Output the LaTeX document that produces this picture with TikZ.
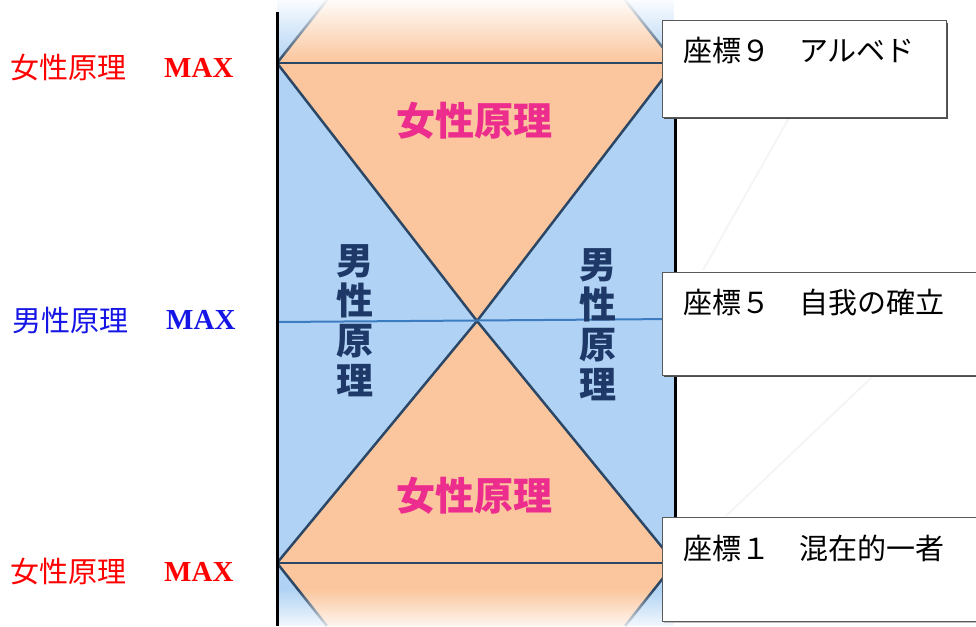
\documentclass[tikz,border=0pt]{standalone}
\usepackage{fontspec}
\newfontfamily\cjk{Noto Sans CJK JP}
\newfontfamily\tms{Liberation Serif}
\usetikzlibrary{fadings}
\definecolor{blu}{HTML}{B0D3F5}
\definecolor{ora}{HTML}{FBC69D}
\definecolor{lin}{HTML}{2B4765}
\definecolor{mag}{HTML}{EC2D8E}
\definecolor{nav}{HTML}{1E3868}
\definecolor{midl}{HTML}{3D7CC0}
\definecolor{lblue}{HTML}{1515E6}
\begin{document}
\begin{tikzpicture}[x=1pt,y=-1pt,
  xline/.style={lin, line width=2.5pt},
  bigf/.style={text=mag, font=\cjk\bfseries\fontsize{39}{39}\selectfont},
  vert/.style={text=nav, align=center, font=\cjk\bfseries\fontsize{37}{40}\selectfont},
  lab/.style={anchor=west, inner sep=0pt, font=\cjk\fontsize{29}{29}\selectfont},
  maxl/.style={anchor=west, inner sep=0pt, font=\tms\bfseries\fontsize{29}{29}\selectfont},
  boxt/.style={anchor=west, inner sep=0pt, text=black, font=\cjk\fontsize{29}{29}\selectfont},
  infobox/.style={fill=white, draw=black!65, line width=1pt},
  boxshadow/.style={fill=black!70}
]
\useasboundingbox (0,0) rectangle (976,626);
% coordinates
\coordinate (TL) at (277,63);
\coordinate (TR) at (675,63);
\coordinate (BL) at (277,563);
\coordinate (BR) at (675,563);
\coordinate (C) at (477,321);
\coordinate (TLu) at (327,0);
\coordinate (TRu) at (625,0);
\coordinate (BLd) at (327,626);
\coordinate (BRd) at (625,626);
\coordinate (ML) at (277,322);
\coordinate (MR) at (675,319);
% fills
\fill[blu] (277,0) rectangle (674,626);
\fill[ora] (TLu) -- (TRu) -- (TR) -- (C) -- (TL) -- cycle;
\fill[ora] (BL) -- (C) -- (BR) -- (BRd) -- (BLd) -- cycle;
% lines
\draw[xline] (TL) -- (TR);
\draw[xline] (BL) -- (BR);
\draw[xline] (TL) -- (C) -- (BR);
\draw[xline] (TR) -- (C) -- (BL);
\draw[xline] (TL) -- (TLu);
\draw[xline] (TR) -- (TRu);
\draw[xline] (BL) -- (BLd);
\draw[xline] (BR) -- (BRd);
\draw[midl, line width=2pt] (ML) -- (MR);
% inner texts
\node[bigf] (ft) at (474,121) {女性原理};
\node[bigf] (fb) at (474,496) {女性原理};
\node[vert] (ml) at (355,321) {男\\性\\原\\理};
\node[vert] (mr) at (598,325) {男\\性\\原\\理};
% fades
\fill[white, path fading=south] (270,-4) rectangle (680,62);
\fill[white, path fading=north] (270,589) rectangle (680,633);
% black verticals
\coordinate (LT) at (277,12);
\coordinate (LB) at (277,626);
\coordinate (RT) at (675,100);
\coordinate (RB) at (675,530);
\draw[black, line width=3pt] (LT) -- (LB);
\draw[black, line width=3pt] (RT) -- (RB);
% faint lines
\coordinate (f1a) at (789,118);
\coordinate (f1b) at (703,270);
\coordinate (f2a) at (873,376);
\coordinate (f2b) at (726,516);
\draw[black!4, line width=2pt] (f1a) -- (f1b);
\draw[black!4, line width=2pt] (f2a) -- (f2b);
% boxes
\fill[boxshadow] (664,23) rectangle (948,119);
\draw[infobox] (662,21) rectangle (946,117);
\fill[boxshadow] (664,274) rectangle (990,377);
\draw[infobox] (662,272) rectangle (990,375);
\fill[black!25] (664,519) rectangle (990,623);
\draw[infobox] (662,517) rectangle (990,621);
\node[boxt] (b9) at (683,50) {座標９　アルベド};
\node[boxt] (b5) at (683,302) {座標５　自我の確立};
\node[boxt] (b1) at (683,548) {座標１　混在的一者};
% left labels
\node[lab, text=red] (l1) at (10,68) {女性原理};
\node[maxl, text=red] (m1) at (164,68) {MAX};
\node[lab, text=lblue] (l2) at (12,320) {男性原理};
\node[maxl, text=lblue] (m2) at (166,320) {MAX};
\node[lab, text=red] (l3) at (10,572) {女性原理};
\node[maxl, text=red] (m3) at (164,572) {MAX};
\end{tikzpicture}
\end{document}
